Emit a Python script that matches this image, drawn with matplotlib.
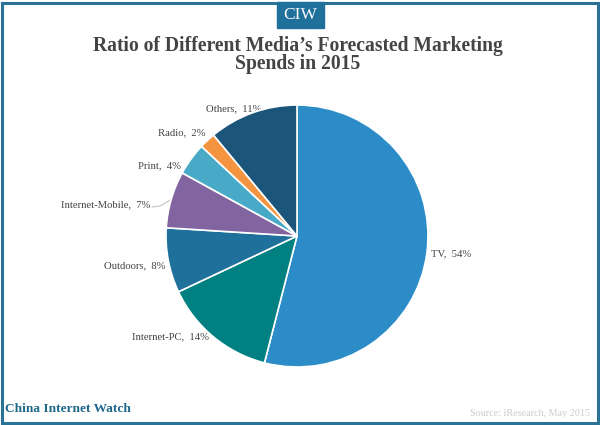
import matplotlib
matplotlib.use("Agg")
import matplotlib.pyplot as plt
from matplotlib.patches import Rectangle

# data
labels = ["TV", "Internet-PC", "Outdoors", "Internet-Mobile", "Print", "Radio", "Others"]
values = [54, 14, 8, 7, 4, 2, 11]
colors = ["#2b8cc8", "#008080", "#20709c", "#8264a0", "#48aac6", "#f59440", "#1b5579"]

# right edge of each label in pixels, TV is left aligned
label_x = [431, 209, 165, 150, 181, 206, 262]
label_y = [254, 337, 266, 205, 166, 133, 109]

plt.rcParams["font.family"] = ["Liberation Serif", "DejaVu Serif"]

fig = plt.figure(figsize=(6, 4.25), dpi=100)

# overlay in pixel coordinates for frame and text
bg = fig.add_axes([0, 0, 1, 1])
bg.set_xlim(0, 600)
bg.set_ylim(425, 0)
bg.axis("off")

bg.add_patch(Rectangle((1.5, 2.5), 596, 420, fill=False, edgecolor="#2a7397", linewidth=2.2))
bg.add_patch(Rectangle((277, 2), 47, 26, color="#20709c"))
bg.text(300.5, 15, "CIW", color="white", fontsize=12.5, ha="center", va="center")

bg.text(298, 46, "Ratio of Different Media’s Forecasted Marketing", color="#444444", fontsize=14.1,
        fontweight="bold", ha="center", va="center")
bg.text(298, 64, "Spends in 2015", color="#444444", fontsize=14.1, fontweight="bold", ha="center", va="center")

bg.text(5, 409, "China Internet Watch", color="#20688c", fontsize=9.6, fontweight="bold", va="center")
bg.text(590, 414, "Source: iResearch, May 2015", color="#cccccc", fontsize=7.3, ha="right", va="center")

# pie centered at (297, 236), radius 131 px
ax = fig.add_axes([(297 - 131) / 600, (425 - 236 - 131) / 425, 262 / 600, 262 / 425])
ax.pie(values, colors=colors, startangle=90, counterclock=False, radius=1,
       wedgeprops={"edgecolor": "white", "linewidth": 1.2})
ax.set_xlim(-1, 1)
ax.set_ylim(-1, 1)

for i in range(len(labels)):
    ha = "left" if i == 0 else "right"
    bg.text(label_x[i], label_y[i], labels[i] + ",  " + str(values[i]) + "%", color="#444444",
            fontsize=7.7, ha=ha, va="center", zorder=5)

# leader line for Internet-Mobile
bg.plot([152, 160, 172], [207, 206, 199], color="#bbbbbb", linewidth=0.7)

fig.savefig("out.png", dpi=100)
